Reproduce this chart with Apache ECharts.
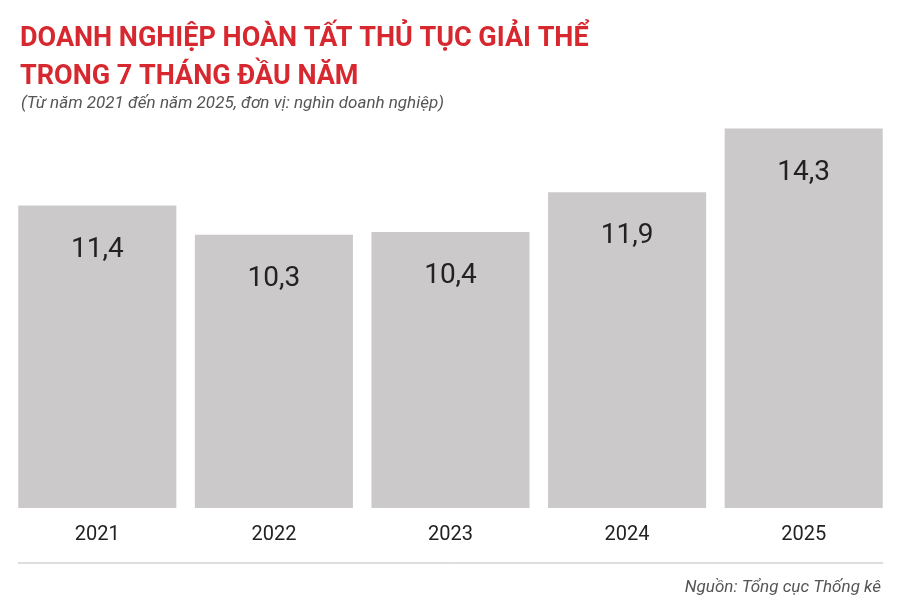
<!DOCTYPE html><html><head><meta charset="utf-8"><script src="https://cdn.jsdelivr.net/npm/echarts@6/dist/echarts.min.js"></script>
<style>body{margin:0}#c{width:900px;height:603px}</style></head><body><div id="c"></div><script>
const categories=['2021','2022','2023','2024','2025'];
const values=[11.4,10.3,10.4,11.9,14.3];
const labels=['11,4','10,3','10,4','11,9','14,3'];
const F='"Roboto",sans-serif';
const ch=echarts.init(document.getElementById('c'));
ch.setOption({
 animation:false,
 title:[{text:'DOANH NGHIỆP HOÀN TẤT THỦ TỤC GIẢI THỂ\nTRONG 7 THÁNG ĐẦU NĂM',left:15,top:15,textStyle:{color:'#d7282f',fontSize:27,fontWeight:'bold',fontFamily:F,lineHeight:38}},
 {text:'(Từ năm 2021 đến năm 2025, đơn vị: nghìn doanh nghiệp)',left:16,top:90,textStyle:{color:'#555',fontSize:17,fontStyle:'italic',fontWeight:'normal',fontFamily:F}},
 {text:'Nguồn: Tổng cục Thống kê',right:14,top:574,textStyle:{color:'#555',fontSize:17,fontStyle:'italic',fontWeight:'normal',fontFamily:F}}],
 graphic:[{type:'line',shape:{x1:18,y1:563,x2:883,y2:563},style:{stroke:'#bbb',lineWidth:1}}],
 grid:{left:9,right:8,top:110,bottom:95},
 xAxis:{type:'category',data:categories,axisLine:{show:false},axisTick:{show:false},axisLabel:{color:'#222',fontSize:20,fontFamily:F,margin:17}},
 yAxis:{type:'value',min:0,max:15,show:false,splitLine:{show:false}},
 series:[{type:'bar',data:values,barCategoryGap:'10.5%',itemStyle:{color:'#cbc9ca'},
  label:{show:true,position:'insideTop',distance:30,color:'#222',fontSize:28,fontFamily:F,formatter:p=>labels[p.dataIndex]}}]
});
</script></body></html>
